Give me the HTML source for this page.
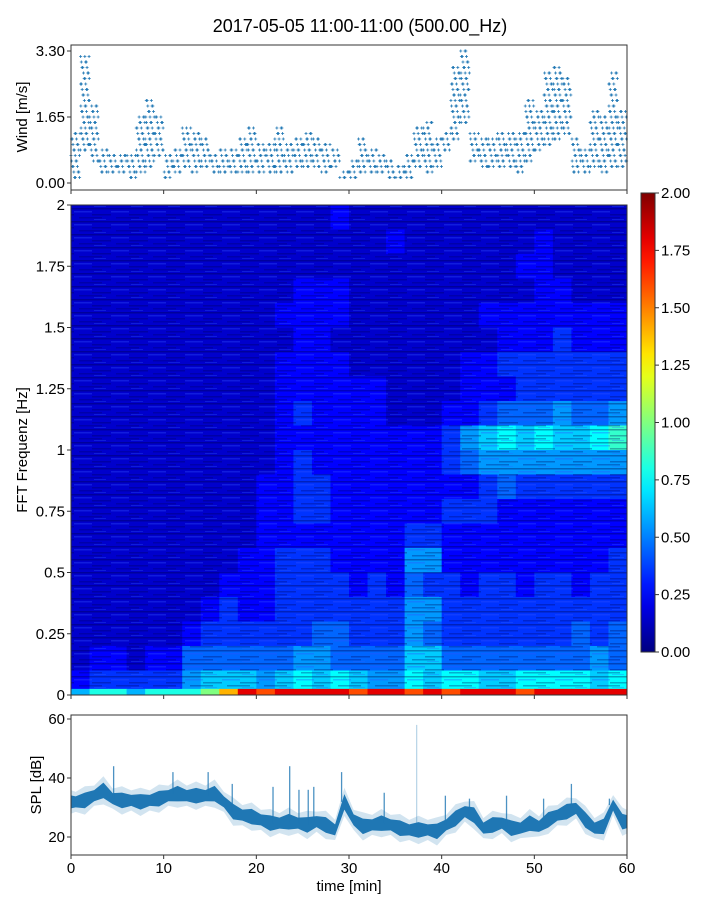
<!DOCTYPE html>
<html><head><meta charset="utf-8">
<style>
html,body{margin:0;padding:0;background:#fff;}
svg{display:block;font-family:"Liberation Sans","DejaVu Sans",sans-serif;}
</style></head>
<body>
<svg id="fig" width="720" height="900" viewBox="0 0 720 900" xmlns="http://www.w3.org/2000/svg">
<text x="360" y="32" text-anchor="middle" font-size="18" fill="#000">2017-05-05 11:00-11:00 (500.00_Hz)</text>
<g id="wind"></g>
<g id="spec"></g>
<g id="cbar"></g>
<g id="spl"></g>
</svg>
<script>
// ---- data ----
const windLo=[0.1,0.8,0.5,0.15,0.2,0.25,0.1,0.25,0.35,0.65,0.1,0.25,0.35,0.25,0.35,0.15,0.25,0.15,0.15,0.25,0.25,0.15,0.25,0.25,0.35,0.4,0.35,0.25,0.35,0.1,0.1,0.25,0.25,0.15,0.1,0.1,0.1,0.4,0.25,0.4,0.75,1.0,1.4,0.5,0.35,0.35,0.4,0.35,0.15,0.5,0.75,0.85,1.0,1.15,0.25,0.25,0.35,0.25,0.35,0.35];
const windHi=[1.3,3.25,2.0,0.9,0.75,0.75,0.7,1.65,2.1,1.65,0.7,0.85,1.4,1.25,1.1,0.75,0.85,0.85,1.1,1.4,1.0,1.0,1.4,1.0,1.15,1.35,1.1,1.0,0.9,0.35,0.6,1.1,0.9,0.75,0.65,0.5,0.75,1.5,1.6,1.15,1.35,2.9,3.3,1.25,1.15,1.15,1.35,1.25,1.25,2.1,1.85,2.75,3.0,2.65,1.1,0.9,1.9,1.65,2.75,1.85];
const windTicks=[0,1.65,3.30];
const windTickLabels=["0.00","1.65","3.30"];
const splMean=[31.9,32.4,34,35.8,33,32.4,32.4,31.9,32.4,33,34,34.7,34,34,34,34.7,31.9,28.6,27.4,26.9,25.8,24.7,24.7,25.2,24.7,24.1,25.2,24.1,22.4,31.9,25.8,23.6,24.1,24.7,24.1,23,22.4,22.4,22.4,21.9,24.1,26.3,28.6,27.4,23,24.1,24.7,23,23,24.7,23.6,25.8,27.4,28.6,29.7,25.8,23,23.6,30.8,25.2];
const spikeTimes=[4.6,11,14.8,17.4,21.8,23.6,24.6,25.6,26.2,29.2,33.8,37.3,40.4,43,47,51,54,58.1];
const spikePeaks=[44,42,42,38,37,44,36,36,37,42,35,58,34,33,34,33,38,33];
const splTicks=[20,40,60];
const timeTicks=[0,10,20,30,40,50,60];
const freqTicks=[0,0.25,0.5,0.75,1,1.25,1.5,1.75,2];
const freqTickLabels=["0","0.25","0.5","0.75","1","1.25","1.5","1.75","2"];
const cbarTicks=[0,0.25,0.5,0.75,1,1.25,1.5,1.75,2];
// spectrogram rows (top = 1.9-2.0 Hz ... bottom = 0-0.1 Hz), 30 columns of 2 min, power = digit*0.1+0.05
const specRows=[
"111111111111112111111111111111",
"111111111111111112111111121111",
"111111111111111111111111221111",
"111111111111222111111111122111",
"111111111112222111111122222222",
"111111111111221111111112223222",
"111111111112222111111223333333",
"111111111112222221111222333333",
"111111111112322221112234445445",
"111111111112222222223567676678",
"111111111112322222223455555555",
"111111111122332222222234333333",
"111111111122332222223332222222",
"111111111122222222332222222222",
"111111111223332222552222222223",
"111111112223333232433233233233",
"111111123223333333553333333333",
"111111233333344333543333333434",
"122122444444554444664444444454",
"233333566656767655767766777767"];
const dcRow="344344457989999899898999899999";

// ---- helpers ----
const NS="http://www.w3.org/2000/svg";
function mk(parent,tag,attrs){const e=document.createElementNS(NS,tag);for(const k in attrs)e.setAttribute(k,attrs[k]);parent.appendChild(e);return e;}
function jet(v){const x=Math.max(0,Math.min(1,v));const c=t=>Math.round(255*Math.max(0,Math.min(1,1.5-Math.abs(4*x-t))));return `rgb(${c(3)},${c(2)},${c(1)})`;}
const X0=71,X1=627;
const xs=t=>X0+(X1-X0)*t/60;

// ---- wind panel ----
const W=document.getElementById('wind');
const wy=v=>183-v*40;
for(let m=0;m<60;m++){
  let lv=0;
  for(let v=0;v<=windHi[m]+0.001;v+=0.1375,lv++){
    if(v<windLo[m]-0.001)continue;
    for(let k=0;k<3;k++){
      const t=m+((lv*37+k*53+m*17)%97)/97;
      const x=xs(t),y=wy(v);
      const p=mk(W,'path',{d:`M${x-1.5},${y}h3M${x},${y-1.5}v3`,stroke:'#1f77b4','stroke-width':0.8});
      
      
    }
  }
}
let fr=mk(W,'rect',{x:X0,y:45,width:X1-X0,height:145,fill:'none',stroke:'#333','stroke-width':1});

windTicks.forEach((v,i)=>{mk(W,'line',{x1:X0-4,x2:X0,y1:wy(v),y2:wy(v),stroke:'#333'});
 const t=mk(W,'text',{x:X0-6,y:wy(v)+5,'text-anchor':'end','font-size':15});t.textContent=windTickLabels[i];
 });
timeTicks.forEach(v=>mk(W,'line',{x1:xs(v),x2:xs(v),y1:190,y2:194,stroke:'#333'}));
let wl=mk(W,'text',{x:0,y:0,transform:'translate(27,117) rotate(-90)','text-anchor':'middle','font-size':15});wl.textContent='Wind [m/s]';


// ---- spectrogram ----
const S=document.getElementById('spec');
const SY0=205,SY1=695;
const fy=f=>SY1-(SY1-SY0)*f/2;
const nC=specRows[0].length;
specRows.forEach((row,ri)=>{
  const fTop=2-ri*0.1, fBot=fTop-0.1;
  for(let c=0;c<nC;c++){
    const v=parseInt(row[c])*0.1+0.05;
    const r=mk(S,'rect',{x:xs(c*60/nC),y:fy(fTop),width:xs((c+1)*60/nC)-xs(c*60/nC)+0.5,height:fy(fBot)-fy(fTop)+0.5,fill:jet(v/2)});
    
  }
});
// stripe texture overlay
const defs=mk(S,'defs',{});
const pat=mk(defs,'pattern',{id:'stripes',width:37,height:13,patternUnits:'userSpaceOnUse'});
mk(pat,'rect',{x:0,y:0,width:37,height:1.5,fill:'#000040',opacity:0.35});
mk(pat,'rect',{x:0,y:3,width:18,height:1.5,fill:'#3050ff',opacity:0.35});
mk(pat,'rect',{x:18,y:6,width:19,height:1.5,fill:'#000050',opacity:0.3});
mk(pat,'rect',{x:5,y:9,width:23,height:1.5,fill:'#000060',opacity:0.3});
mk(pat,'rect',{x:20,y:11,width:12,height:1,fill:'#3060ff',opacity:0.3});
let ov=mk(S,'rect',{x:X0,y:SY0,width:X1-X0,height:SY1-SY0,fill:'url(#stripes)'});

for(let c=0;c<nC;c++){
  const v=parseInt(dcRow[c])*0.2;
  const r=mk(S,'rect',{x:xs(c*60/nC),y:fy(0.025),width:xs((c+1)*60/nC)-xs(c*60/nC)+0.5,height:fy(0)-fy(0.025),fill:jet(v/2)});
  
}
fr=mk(S,'rect',{x:X0,y:SY0,width:X1-X0,height:SY1-SY0,fill:'none',stroke:'#333'});

freqTicks.forEach((f,i)=>{mk(S,'line',{x1:X0-4,x2:X0,y1:fy(f),y2:fy(f),stroke:'#333'});
 const t=mk(S,'text',{x:X0-6,y:fy(f)+5,'text-anchor':'end','font-size':15});t.textContent=freqTickLabels[i];
 });
timeTicks.forEach(v=>mk(S,'line',{x1:xs(v),x2:xs(v),y1:SY1,y2:SY1+4,stroke:'#333'}));
let sl=mk(S,'text',{x:0,y:0,transform:'translate(27,450) rotate(-90)','text-anchor':'middle','font-size':15});sl.textContent='FFT Frequenz [Hz]';


// ---- colorbar ----
const C=document.getElementById('cbar');
const CY0=193,CY1=652,CX=641,CW=14;
const cd=mk(C,'defs',{});
const lg=mk(cd,'linearGradient',{id:'jetg',x1:0,y1:1,x2:0,y2:0});
for(let i=0;i<=20;i++)mk(lg,'stop',{offset:i/20,'stop-color':jet(i/20)});
let cb=mk(C,'rect',{x:CX,y:CY0,width:CW,height:CY1-CY0,fill:'url(#jetg)',stroke:'#333'});

cbarTicks.forEach(v=>{const y=CY1-(CY1-CY0)*v/2;mk(C,'line',{x1:CX+CW,x2:CX+CW+4,y1:y,y2:y,stroke:'#333'});
 const t=mk(C,'text',{x:CX+CW+6,y:y+5,'font-size':15});t.textContent=v.toFixed(2);
 });

// ---- SPL panel ----
const P=document.getElementById('spl');
const PY0=715,PY1=855;
const py=v=>837-(v-20)*2.95;
function band(off,fill,op,name){
  let up=[],dn=[];
  splMean.forEach((v,i)=>{const w=off*(i%2?1.2:0.85);up.push(`${xs(i+0.5)},${py(v+w)}`);dn.unshift(`${xs(i+0.5)},${py(v-w)}`);});
  const first=`${xs(0)},${py(splMean[0]+off)}`,firstB=`${xs(0)},${py(splMean[0]-off)}`;
  const lastU=`${xs(60)},${py(splMean[59]+off)}`,lastD=`${xs(60)},${py(splMean[59]-off)}`;
  const p=mk(P,'polygon',{points:[first,...up,lastU,lastD,...dn,firstB].join(' '),fill:fill,'fill-opacity':op});
  
}
band(4,'#1f77b4',0.2,'spl-range-band');
band(2.2,'#1f77b4',1,'spl-main-band');
spikeTimes.forEach((t,i)=>{
  const m=splMean[Math.min(59,Math.floor(t))];
  const l=mk(P,'line',{x1:xs(t),x2:xs(t),y1:py(m),y2:py(spikePeaks[i]),stroke:'#1f77b4','stroke-width':1.3,'stroke-opacity':spikePeaks[i]>50?0.3:0.8});
  
});
fr=mk(P,'rect',{x:X0,y:PY0,width:X1-X0,height:PY1-PY0,fill:'none',stroke:'#333'});

splTicks.forEach(v=>{mk(P,'line',{x1:X0-4,x2:X0,y1:py(v),y2:py(v),stroke:'#333'});
 const t=mk(P,'text',{x:X0-6,y:py(v)+5,'text-anchor':'end','font-size':15});t.textContent=v;
 });
timeTicks.forEach(v=>{mk(P,'line',{x1:xs(v),x2:xs(v),y1:PY1,y2:PY1+4,stroke:'#333'});
 const t=mk(P,'text',{x:xs(v),y:PY1+18,'text-anchor':'middle','font-size':15});t.textContent=v;
 });
let pl=mk(P,'text',{x:0,y:0,transform:'translate(41,785) rotate(-90)','text-anchor':'middle','font-size':15});pl.textContent='SPL [dB]';

let xl=mk(P,'text',{x:(X0+X1)/2,y:891,'text-anchor':'middle','font-size':15});xl.textContent='time [min]';

</script>
</body></html>
